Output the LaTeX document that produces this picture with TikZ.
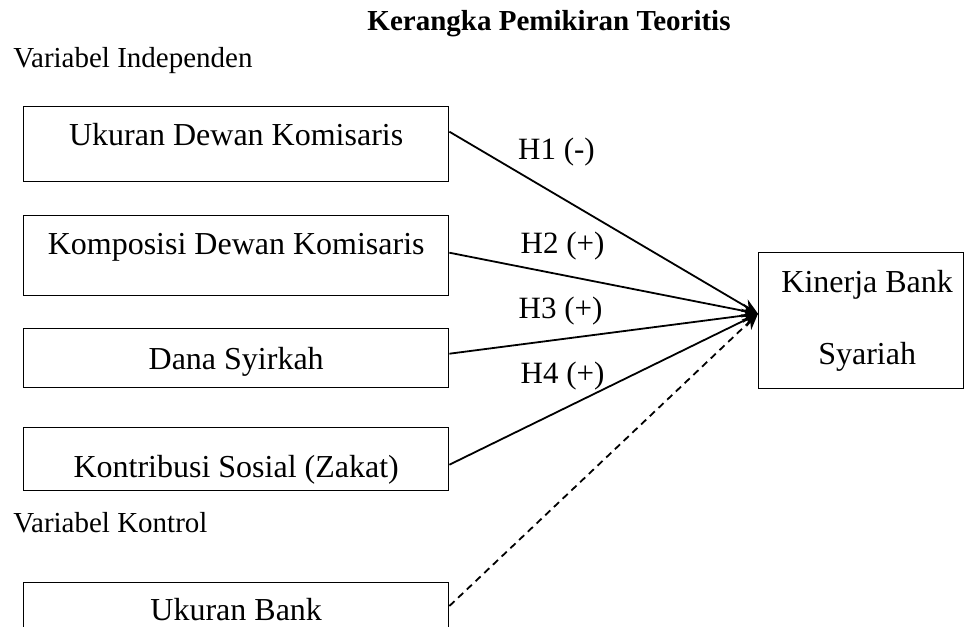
\documentclass[tikz,border=0pt]{standalone}
\usepackage{fontspec}
\setmainfont{Liberation Serif}
\usetikzlibrary{arrows.meta}
\begin{document}
\begin{tikzpicture}[x=0.5pt,y=-0.5pt,
    varbox/.style 2 args ={rectangle, draw, line width=0.7pt, inner sep=0pt, minimum width=212.5pt, anchor=north west,
      font=\fontsize{16}{19}\selectfont, text height=#1, text depth=#2},
    heading/.style ={inner sep=0pt, font=\fontsize{14.5}{17}\selectfont},
    hyp/.style ={inner sep=0pt, anchor=base, font=\fontsize{15.5}{18}\selectfont},
    link/.style ={line width=0.9pt, -{Stealth[length=8pt, width=7pt]}}]
   \useasboundingbox (0,0) rectangle (965,627);
   \node[heading, anchor=base, font=\fontsize{14.5}{17}\selectfont\bfseries] (title) at (549,30) {Kerangka Pemikiran Teoritis};
   \node[heading, anchor=base west] (indep) at (13,67) {Variabel Independen};
   \node[heading, anchor=base west] (kontrol) at (13,532) {Variabel Kontrol};
   \node[varbox={19.5pt}{18pt}] (udk) at (23,106) {Ukuran Dewan Komisaris};
   \node[varbox={19.5pt}{20.5pt}] (kdk) at (23,215) {Komposisi Dewan Komisaris};
   \node[varbox={20.5pt}{9pt}] (dsy) at (23,328) {Dana Syirkah};
   \node[varbox={25pt}{6.5pt}] (kso) at (23,427) {Kontribusi Sosial (Zakat)};
   \node[varbox={19pt}{15pt}] (ubk) at (23,582) {Ukuran Bank};
   \node[rectangle, draw, line width=0.7pt, inner sep=0pt, anchor=north west, minimum width=102.5pt, minimum height=68pt,
     align=center, font=\fontsize{16}{36}\selectfont] (kbs) at (758,252) {\hspace*{6pt}Kinerja Bank\\\hspace*{6pt}Syariah};
   \draw[link] ([yshift=6.25pt]udk.east) to ([yshift=3.5pt]kbs.west);
   \draw[link] ([yshift=1.5pt]kdk.east) to ([yshift=3.5pt]kbs.west);
   \draw[link] ([yshift=2.25pt]dsy.east) to ([yshift=3.5pt]kbs.west);
   \draw[link] ([yshift=-2.75pt]kso.east) to ([yshift=3.5pt]kbs.west);
   \draw[link, dash pattern=on 3.5pt off 2.5pt] ([yshift=-12pt]ubk.north east) to ([yshift=3.5pt]kbs.west);
   \node[hyp] (h1) at (556.5,159) {H1 (-)};
   \node[hyp] (h2) at (562.5,253) {H2 (+)};
   \node[hyp] (h3) at (560.5,318) {H3 (+)};
   \node[hyp] (h4) at (562.5,383) {H4 (+)};
\end{tikzpicture}
\end{document}
